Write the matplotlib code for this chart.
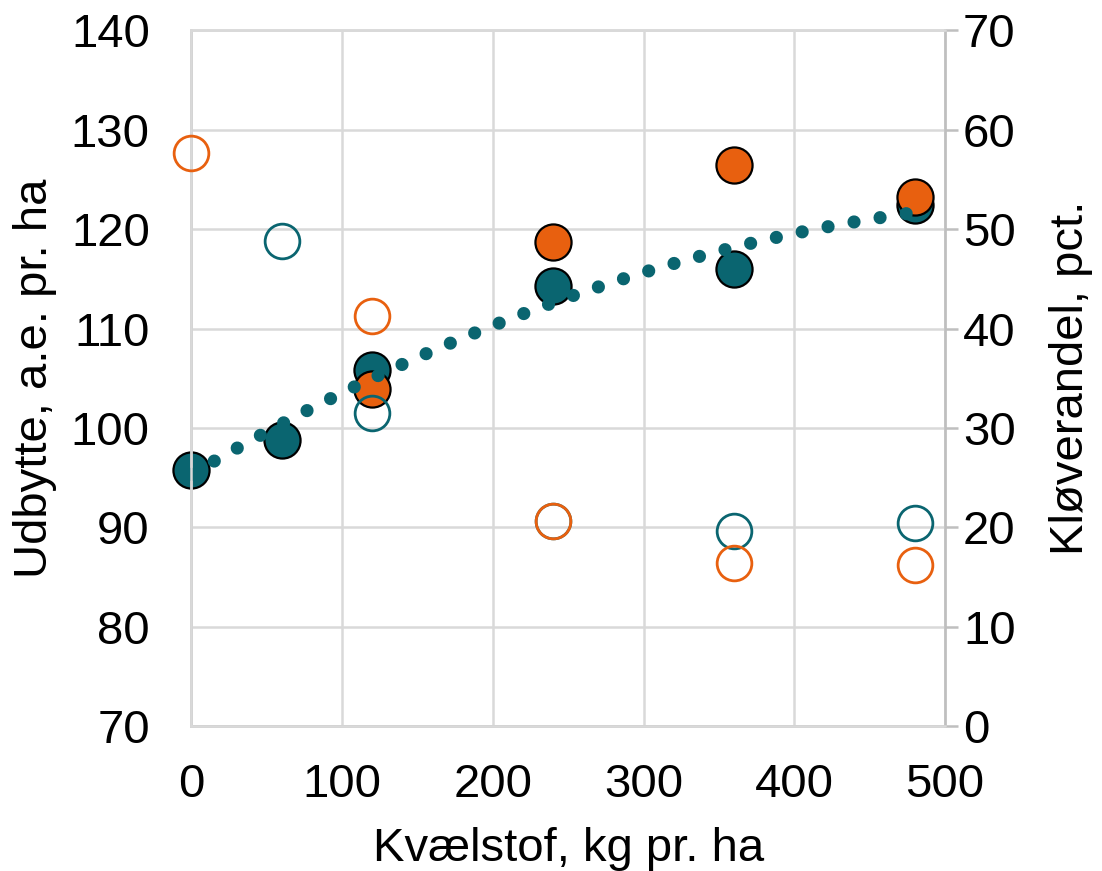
import matplotlib.pyplot as plt
import numpy as np

plt.rcParams['font.family'] = ['Liberation Sans', 'DejaVu Sans']

# Udbytte (venstre akse)
n_teal = [0, 60, 120, 240, 360, 480]
udb_teal = [95.8, 98.8, 105.85, 114.3, 116.0, 122.45]
n_orange = [120, 240, 360, 480]
udb_orange = [103.9, 118.75, 126.5, 123.2]

# Kløverandel (højre akse)
n_klov_teal = [60, 120, 240, 360, 480]
klov_teal = [48.8, 31.5, 20.6, 19.6, 20.4]
n_klov_orange = [0, 120, 240, 360, 480]
klov_orange = [57.65, 41.3, 20.6, 16.4, 16.2]

teal = '#0A6570'
orange = '#E8600F'
grid_col = '#D9D9D9'

fig = plt.figure(figsize=(11.02, 8.71), dpi=100)
ax = fig.add_axes([0.1737, 0.1665, 0.8575 - 0.1737, 0.965 - 0.1665])
ax2 = ax.twinx()

# trendlinje (2. grads polynomium)
coef = np.polyfit(n_teal, udb_teal, 2)
xs = np.linspace(0, 480, 400)
ax.plot(xs, np.polyval(coef, xs), color=teal, lw=9.5, linestyle=(0, (0.001, 2.0)),
        dash_capstyle='round', zorder=4, clip_on=False)

ax.plot(n_teal, udb_teal, 'o', ms=26, mfc=teal, mec='black', mew=1.6, zorder=2, clip_on=False)
ax.plot(n_orange, udb_orange, 'o', ms=26, mfc=orange, mec='black', mew=1.6, zorder=3, clip_on=False)

ax2.plot(n_klov_teal, klov_teal, 'o', ms=25, mfc='none', mec=teal, mew=2.0, zorder=5, clip_on=False)
ax2.plot(n_klov_orange, klov_orange, 'o', ms=25, mfc='none', mec=orange, mew=2.0, zorder=6, clip_on=False)

ax.set_xlim(0, 500)
ax.set_ylim(70, 140)
ax2.set_ylim(0, 70)
ax.set_xticks(np.arange(0, 501, 100))
ax.set_yticks(np.arange(70, 141, 10))
ax2.set_yticks(np.arange(0, 71, 10))

ax.grid(True, color=grid_col, lw=1.8)
ax.set_axisbelow(True)
for a in (ax, ax2):
    for s in a.spines.values():
        s.set_color(grid_col)
        s.set_linewidth(1.8)
ax2.spines['right'].set_color('#BFBFBF')
ax.spines['left'].set_color('#BFBFBF')
ax.spines['bottom'].set_color('#BFBFBF')

ax.tick_params(axis='both', length=0, labelsize=34, pad=27)
ax.tick_params(axis='y', pad=30)
ax2.tick_params(axis='y', length=9, width=1.8, color='#BFBFBF', labelsize=34, pad=4)

ax.set_xlabel('Kvælstof, kg pr. ha', fontsize=34, labelpad=14)
ax.set_ylabel('Udbytte, a.e. pr. ha', fontsize=34, labelpad=10)
ax2.set_ylabel('Kløverandel, pct.', fontsize=34, labelpad=24)

fig.savefig('out.png', dpi=100)
